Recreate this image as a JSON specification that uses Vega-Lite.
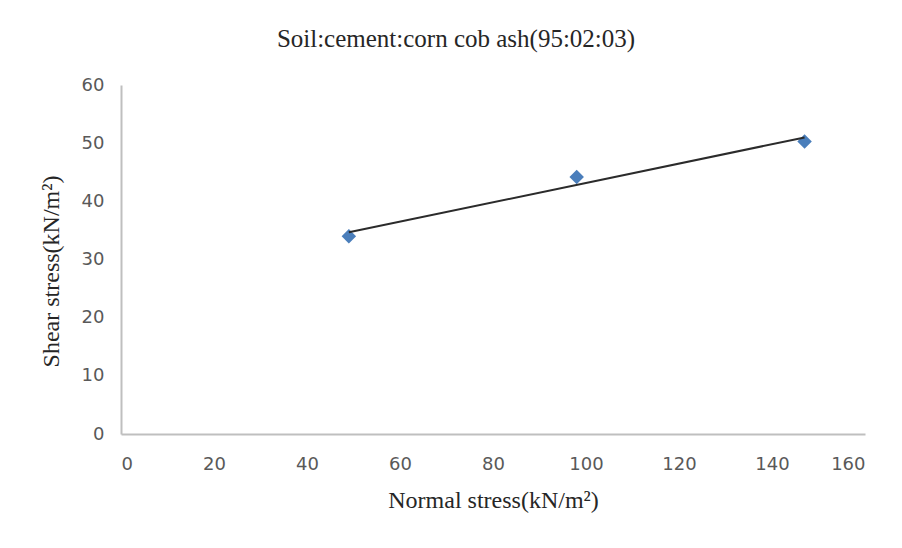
{
  "$schema": "https://vega.github.io/schema/vega-lite/v6.json",
  "width": 744,
  "height": 349,
  "autosize": {"type": "none"},
  "padding": {"left": 121, "top": 85, "right": 37, "bottom": 114},
  "background": "white",
  "title": {
    "text": "Soil:cement:corn  cob ash(95:02:03)",
    "font": "Liberation Serif",
    "fontSize": 25,
    "fontWeight": "normal",
    "color": "#262626",
    "anchor": "middle",
    "frame": "group",
    "dx": -37,
    "offset": 24
  },
  "data": {
    "values": [
      {"normal": 49, "shear": 34.0},
      {"normal": 98, "shear": 44.2},
      {"normal": 147, "shear": 50.3}
    ]
  },
  "encoding": {
    "x": {
      "field": "normal",
      "type": "quantitative",
      "scale": {"domain": [0, 160], "nice": false},
      "axis": {
        "title": "Normal  stress(kN/m²)",
        "values": [0, 20, 40, 60, 80, 100, 120, 140, 160],
        "grid": false,
        "ticks": false,
        "domainColor": "#bfbfbf",
        "domainWidth": 2,
        "labelFont": "DejaVu Sans",
        "labelFontSize": 18,
        "labelColor": "#595959",
        "labelPadding": 21,
        "titleFont": "Liberation Serif",
        "titleFontSize": 24,
        "titleFontWeight": "normal",
        "titleColor": "#262626",
        "titlePadding": 15
      }
    },
    "y": {
      "field": "shear",
      "type": "quantitative",
      "scale": {"domain": [0, 60], "nice": false},
      "axis": {
        "title": "Shear stress(kN/m²)",
        "values": [0, 10, 20, 30, 40, 50, 60],
        "grid": false,
        "ticks": false,
        "domainColor": "#bfbfbf",
        "domainWidth": 2,
        "labelFont": "DejaVu Sans",
        "labelFontSize": 18,
        "labelColor": "#595959",
        "labelPadding": 17,
        "titleFont": "Liberation Serif",
        "titleFontSize": 24,
        "titleFontWeight": "normal",
        "titleColor": "#262626",
        "titlePadding": 18,
        "titleY": 186
      }
    }
  },
  "layer": [
    {
      "mark": {"type": "point", "shape": "diamond", "filled": true, "size": 210, "color": "#4a7ebb", "opacity": 1}
    },
    {
      "mark": {"type": "line", "color": "#2b2b2b", "strokeWidth": 2},
      "transform": [{"regression": "shear", "on": "normal"}]
    }
  ],
  "config": {"view": {"stroke": null}}
}
